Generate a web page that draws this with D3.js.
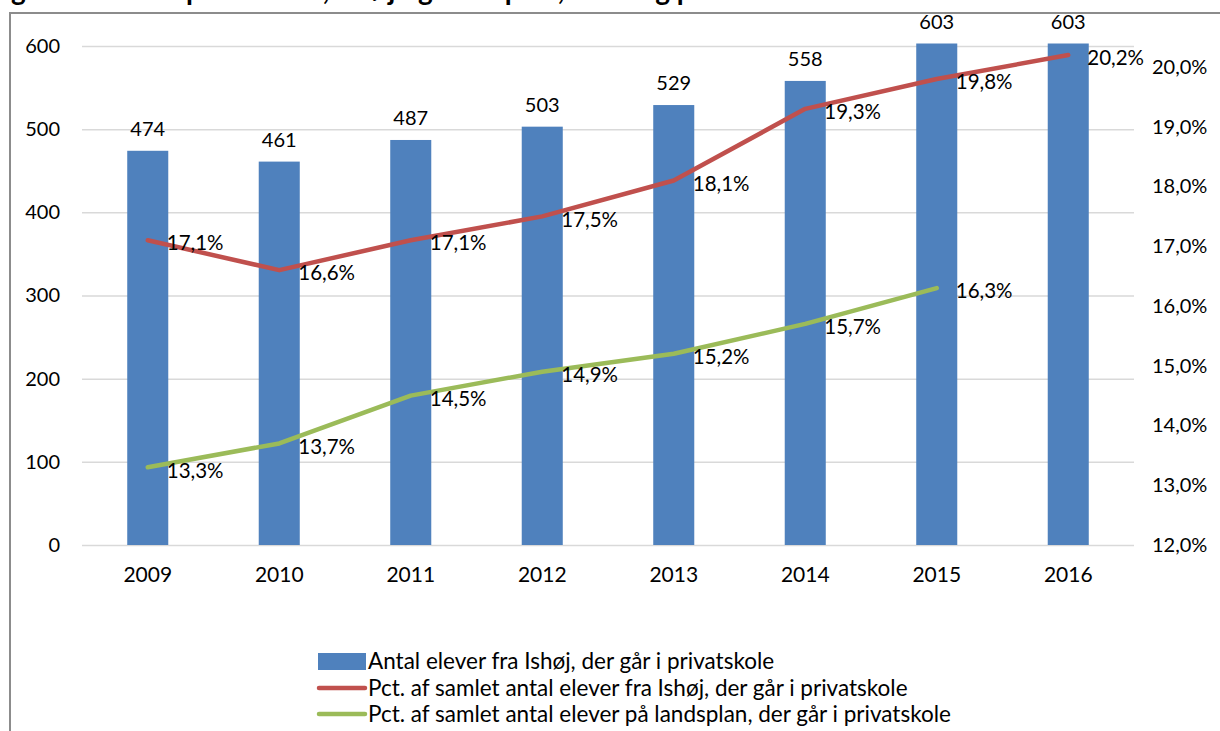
<!DOCTYPE html>
<html lang="da">
<head>
<meta charset="UTF-8">
<title>Elever i privatskole</title>
<style>
  body { margin: 0; background: #fff; }
  svg text { font-family: Lato, "Open Sans", sans-serif; fill: #000; }
  .grid line { stroke: #d9d9d9; stroke-width: 1.5px; }
  .grid .domain { display: none; }
  .tick text { font-size: 20px; }
</style>
</head>
<body>
<script src="https://d3js.org/d3.v7.min.js"></script>
<script>
// data
const years = ['2009', '2010', '2011', '2012', '2013', '2014', '2015', '2016'];
const antal = [474, 461, 487, 503, 529, 558, 603, 603];
const pctIshoj = [17.1, 16.6, 17.1, 17.5, 18.1, 19.3, 19.8, 20.2];
const pctLand = [13.3, 13.7, 14.5, 14.9, 15.2, 15.7, 16.3];   // no 2016 value
const leftTicks = [0, 100, 200, 300, 400, 500, 600];
const rightTicks = [12, 13, 14, 15, 16, 17, 18, 19, 20];
const legendNames = [
  'Antal elever fra Ishøj, der går i privatskole',
  'Pct. af samlet antal elever fra Ishøj, der går i privatskole',
  'Pct. af samlet antal elever på landsplan, der går i privatskole'
];
const titleText = 'Figur 2: Elever i privatskole, Ishøj og landsplan, antal og pct.';

const W = 1220, H = 731;
const blue = '#4f81bd', red = '#c0504d', green = '#9bbb59';

const da = d3.formatLocale({ decimal: ',', thousands: '.', grouping: [3], currency: ['', ' kr'] });
const pct = v => da.format('.1f')(v) + '%';

const svg = d3.select('body').append('svg')
  .attr('width', W).attr('height', H);

// title: the original picture is cropped, only its lowest part shows
svg.append('text')
  .attr('x', -12).attr('y', 0)
  .style('font-size', '28px').style('font-weight', 'bold')
  .text(titleText);

// chart frame
svg.append('path')
  .attr('d', `M10,${H} V13 H${W}`)
  .attr('fill', 'none').attr('stroke', '#8c8c8c').attr('stroke-width', 2);

const pL = 82, pR = 1134, pT = 46, pB = 545;

const x = d3.scaleBand().domain(years).range([pL, pR])
  .paddingInner(0.688).paddingOuter(0.344);
const y = d3.scaleLinear().domain([0, 600]).range([pB, pT]);
const yR = d3.scaleLinear().domain([12, 20]).range([pB, 67]);

// gridlines + left axis
svg.append('g').attr('class', 'grid')
  .attr('transform', `translate(${pL},0)`)
  .call(d3.axisLeft(y).tickValues(leftTicks).tickSize(-(pR - pL)).tickPadding(22));

// right axis
const ra = svg.append('g').attr('class', 'grid')
  .attr('transform', `translate(${pR},0)`)
  .call(d3.axisRight(yR).tickValues(rightTicks).tickSize(0).tickPadding(18).tickFormat(v => pct(v)));
ra.selectAll('.tick text').attr('text-anchor', 'start');

// x axis labels
svg.append('g').attr('class', 'grid')
  .attr('transform', `translate(0,${pB})`)
  .call(d3.axisBottom(x).tickSize(0).tickPadding(22))
  .selectAll('.tick text').style('font-size', '21px');

// bars
svg.append('g').selectAll('rect')
  .data(antal)
  .join('rect')
  .attr('x', (d, i) => x(years[i]))
  .attr('y', d => y(d))
  .attr('width', x.bandwidth())
  .attr('height', d => pB - y(d))
  .attr('fill', blue);

svg.append('g').selectAll('text')
  .data(antal)
  .join('text')
  .attr('x', (d, i) => x(years[i]) + x.bandwidth() / 2)
  .attr('y', d => y(d) - 15)
  .attr('text-anchor', 'middle')
  .style('font-size', '20px')
  .text(d => d);

// lines
const cx = i => x(years[i]) + x.bandwidth() / 2;
const line = d3.line().x((d, i) => cx(i)).y(d => yR(d));

[[pctIshoj, red], [pctLand, green]].forEach(([vals, col]) => {
  svg.append('path')
    .datum(vals)
    .attr('d', line)
    .attr('fill', 'none')
    .attr('stroke', col)
    .attr('stroke-width', 4.5)
    .attr('stroke-linejoin', 'round')
    .attr('stroke-linecap', 'round');

  svg.append('g').selectAll('text')
    .data(vals)
    .join('text')
    .attr('x', (d, i) => cx(i) + 19)
    .attr('y', d => yR(d) + 3)
    .attr('dy', '0.35em')
    .style('font-size', '20.5px')
    .text(d => pct(d));
});

// legend
const lg = svg.append('g').attr('transform', 'translate(318,0)');
const rows = [661, 688, 714];
lg.append('rect').attr('x', 0).attr('y', rows[0] - 8).attr('width', 48).attr('height', 17).attr('fill', blue);
[red, green].forEach((c, k) => {
  lg.append('line').attr('x1', 1).attr('x2', 47)
    .attr('y1', rows[k + 1]).attr('y2', rows[k + 1])
    .attr('stroke', c).attr('stroke-width', 4.5).attr('stroke-linecap', 'round');
});
lg.selectAll('text.lab')
  .data(legendNames)
  .join('text')
  .attr('class', 'lab')
  .attr('x', 50)
  .attr('y', (d, i) => rows[i])
  .attr('dy', '0.35em')
  .style('font-size', '22.5px')
  .text(d => d);
</script>
</body>
</html>
